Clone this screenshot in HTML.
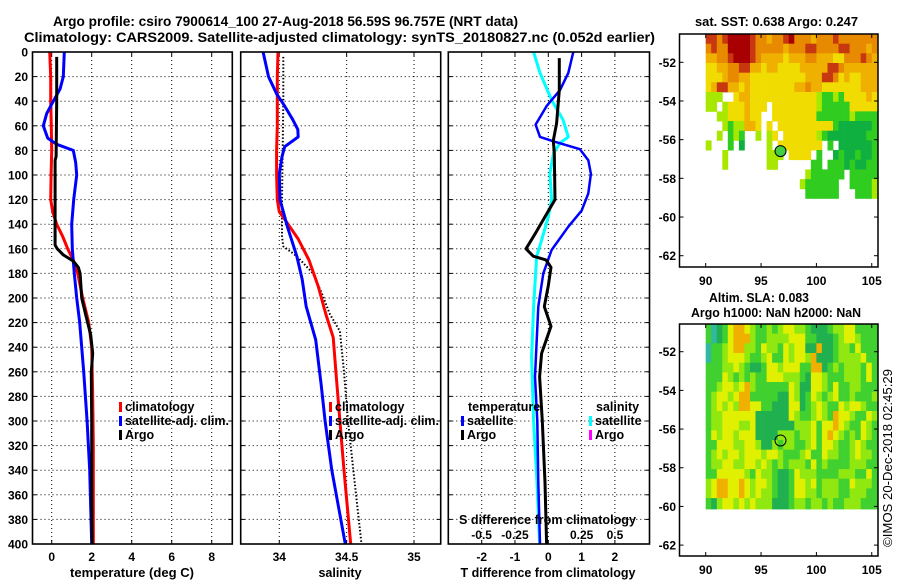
<!DOCTYPE html>
<html><head><meta charset="utf-8">
<style>
html,body{margin:0;padding:0;background:#fff;}
svg{display:block;font-family:"Liberation Sans",sans-serif;font-weight:bold;}
</style></head>
<body>
<svg id="chart" width="900" height="580" viewBox="0 0 900 580" xmlns="http://www.w3.org/2000/svg"></svg>
<script>
// ---------- data ----------
const depthTicks = [0,20,40,60,80,100,120,140,160,180,200,220,240,260,280,300,320,340,360,380,400];
const tempTicks = [0,2,4,6,8];
const salTicks = [34,34.5,35];
const salTickLabels = ["34","34.5","35"];
const tdiffTicks = [-2,-1,0,1,2];
const sdiffTicks = [-0.5,-0.25,0.25,0.5];
const sdiffTickLabels = ["-0.5","-0.25","0.25","0.5"];

// temperature panel
const tClimDepth = [0,20,40,60,80,100,120,130,140,150,160,170,180,200,220,240,280,320,360,400];
const tClimVal = [-0.1,-0.05,-0.05,-0.02,0.0,-0.03,-0.05,0.05,0.25,0.55,0.8,1.1,1.3,1.55,1.85,2.0,2.05,2.08,2.08,2.08];
const tSatDepth = [0,20,30,40,50,60,70,75,80,90,100,120,140,160,180,200,220,260,300,340,400];
const tSatVal = [0.63,0.58,0.42,0.08,-0.25,-0.42,-0.2,0.25,1.08,1.2,1.25,1.1,1.0,1.03,1.13,1.25,1.4,1.6,1.77,1.9,2.0];
const tArgoDepth = [4,40,85,88,157,160,165,170,175,180,200,215,230,245,260,300,350,400];
const tArgoVal = [0.25,0.25,0.22,0.17,0.17,0.28,0.58,1.08,1.33,1.42,1.5,1.72,1.95,2.05,1.98,2.0,2.0,2.02];

// salinity panel
const sClimDepth = [0,20,40,60,80,100,120,130,136,152,169,191,213,232,260,300,340,400];
const sClimVal = [33.99,33.985,33.985,33.985,33.98,33.98,33.985,34.0,34.04,34.14,34.22,34.29,34.345,34.40,34.42,34.45,34.48,34.53];
const sSatDepth = [0,20,34,44,55,63,69,77,85,99,120,142,166,185,207,234,270,300,340,400];
const sSatVal = [33.88,33.92,33.98,34.04,34.10,34.137,34.14,34.04,34.02,34.0,34.005,34.06,34.13,34.17,34.20,34.27,34.31,34.34,34.39,34.49];
const sArgoDepth = [4,40,80,120,150,158,166,180,196,213,227,260,300,350,400];
const sArgoVal = [34.03,34.03,34.025,34.02,34.02,34.03,34.13,34.25,34.315,34.375,34.45,34.48,34.51,34.56,34.61];

// difference panel
const dTSatDepth = [0,17,31,44,59,69,73,79,88,99,115,129,142,161,180,207,264,300,350,400];
const dTSatVal = [0.75,0.6,0.35,-0.05,-0.38,-0.25,0.2,0.95,1.2,1.28,1.2,1.0,0.6,0.1,-0.15,-0.3,-0.4,-0.33,-0.3,-0.25];
const dTArgoDepth = [5,31,58,72,82,120,134,148,160,166,169,175,190,207,223,245,264,300,350,400];
const dTArgoVal = [0.33,0.33,0.25,0.15,0.18,0.2,-0.1,-0.4,-0.67,-0.45,-0.07,0.08,0.0,-0.12,0.08,-0.2,-0.26,-0.18,-0.1,-0.05];
const dSSatDepth = [0,17,39,55,69,74,82,99,120,134,153,166,207,248,300,350,400];
const dSSatVal = [-0.11,-0.062,0.025,0.11,0.15,0.088,0.04,0.012,0.025,0,-0.05,-0.087,-0.11,-0.125,-0.11,-0.085,-0.065];

// maps
const lonTicks = [90,95,100,105];
const latTicks = [-52,-54,-56,-58,-60,-62];
const argoLon = 96.757, argoLat = -56.59;
const sstRows = [
"rrorRRRRrooOoorRoooOooorooooooo",
"orooRRRRroooooOooorroooorroooOo",
"OOoorRRRroOOOOyOOOooOOOyyoooroO",
"yyOOoorrOOyOOyyyyOOOOOrroOOOOOO",
"yyyOooOOyyyyyyyyyyOOOrroyOyyOOO",
"yOrrOOyOyyyyyyyyOOoOOyyyyyyyOOO",
"lll..yOOyyyyyyyyyyyylgglgyyyyOy",
"ll.lyyyOyyy.yyyyyyyylgggggyyyyy",
"..llyyyOyy..yyyyyyyygggggglgggg",
"...lgllOOy.y.yyyyyyyyyygGGGGGGg",
"..l.glg..l.ly.yyyyyylgGGGGGGGgg",
"l...g.G....l.yyyyyyyy.g.GGGGGGg",
"...l.......lll.yyyy.g..GgGGgGGg",
"...l.......ll......gg.gggGgGGgg",
"..................lgggggg.ggggg",
".................lgggggg..ggggl",
"..................gggggg...gggl"];
const slaRows = [
"gcGgyooylgglglyyllgGGGgllyygggg",
"gcGgyooolggllllyyyggGGGglyylggg",
"cgglyoollgyllgylyyGGoGGgllgyggg",
"cgglyyylgglyggylyyloGGGgllllygg",
"gggllylgGGgyylyyyggooGglglllgyg",
"gggylglglggyyylllgGyylggglllgyg",
"gglyylyolggggggylGGyylgyggllggg",
"glyylyoogggggGGylGgylglygglgggl",
"glylylooyyggGGGyyGglylggylyylgg",
"gllyyyyyyGGGGGGylgglylgoyylggyl",
"gllyyyllyGGGGGGGlllygyyoylggylg",
"gylyylyyyGGGGlllgllygyoylglgylg",
"ggyyyllyylGGlgllgglygyylgglylgg",
"glylyylyyylyylggglyggyllgglyllg",
"gllyyllyylylglglllgyglgggglllgg",
"ggyyyyylgyllgGGgylllgggglllggyg",
"lyooyyoylyylgGGgyylyglllggylllg",
"lyooyyoylyllgGGgyyllglllgglllgg",
"gGlyylylylllGGGgllgllglgglllggg",
"gGlyylylylllGGGgllgllglgglllggg"];

// ---------- helpers ----------
const NS = "http://www.w3.org/2000/svg";
const svg = document.getElementById("chart");
function mk(tag, attrs, parent){
  const e = document.createElementNS(NS, tag);
  for (const k in attrs) e.setAttribute(k, attrs[k]);
  (parent||svg).appendChild(e);
  return e;
}
function txt(s, x, y, size, anchor, parent, len){
  const a = {x:x, y:y, "font-size":size, "text-anchor":anchor||"start", fill:"#000"};
  if (len){ a.textLength = len; a.lengthAdjust = "spacingAndGlyphs"; }
  const e = mk("text", a, parent);
  e.textContent = s;
  return e;
}
const yD = d => 52 + d*1.23;
const PY0 = 52, PY1 = 544;
const xT = v => 51.7 + 20*v;
const xS = v => 279.3 + 134.7*(v-34);
const xDT = v => 548.3 + 33.3*v;
const xDS = v => 548.3 + 133.3*v;

function panelFrame(name, x0, x1, xticks, xfn){
  const g = mk("g", {});
  
  
  for (let i=1;i<depthTicks.length-1;i++){
    const y = yD(depthTicks[i]);
    const l = mk("line",{x1:x0,x2:x1,y1:y,y2:y,stroke:"#000","stroke-width":1,"stroke-dasharray":"1,3"},g);
    
    
    mk("line",{x1:x0,x2:x0+4,y1:y,y2:y,stroke:"#000","stroke-width":1},g);
    mk("line",{x1:x1-4,x2:x1,y1:y,y2:y,stroke:"#000","stroke-width":1},g);
  }
  xticks.forEach(v=>{
    const x = xfn(v);
    const l = mk("line",{x1:x,x2:x,y1:PY0,y2:PY1,stroke:"#000","stroke-width":1,"stroke-dasharray":"1,3"},g);
    
    
    mk("line",{x1:x,x2:x,y1:PY0,y2:PY0+4,stroke:"#000","stroke-width":1},g);
    mk("line",{x1:x,x2:x,y1:PY1-4,y2:PY1,stroke:"#000","stroke-width":1},g);
  });
  return g;
}
function border(name, x0, x1){
  const r = mk("rect",{x:x0,y:PY0,width:x1-x0,height:PY1-PY0,fill:"none",stroke:"#000","stroke-width":1.6});
  
  
}
function curve(name, depths, vals, xfn, color, w, dash){
  const pts = depths.map((d,i)=> xfn(vals[i]).toFixed(1)+","+yD(d).toFixed(1)).join(" ");
  const a = {points:pts, fill:"none", stroke:color, "stroke-width":w, "stroke-linejoin":"round"};
  if (dash) a["stroke-dasharray"] = dash;
  const p = mk("polyline", a);
  
  
  return p;
}
function legendEntry(name, color, x, y, label, len){
  const g = mk("g",{});
  
  
  if (color) mk("rect",{x:x,y:y-9,width:3,height:10,fill:color},g);
  txt(label, x+6, y, 12.5, "start", g, len);
}

// ---------- titles ----------
let t = txt("Argo profile: csiro 7900614_100 27-Aug-2018 56.59S 96.757E (NRT data)", 53, 26, 14, "start", svg, 465);


t = txt("Climatology: CARS2009. Satellite-adjusted climatology: synTS_20180827.nc (0.052d earlier)", 24, 42, 14, "start", svg, 631);



// ---------- panel 1: temperature ----------
panelFrame("temperature-grid", 32.5, 232.3, tempTicks, xT);
curve("temperature-climatology-line", tClimDepth, tClimVal, xT, "#ff0000", 3);
curve("temperature-satellite-line", tSatDepth, tSatVal, xT, "#0000ff", 3);
curve("temperature-argo-line", tArgoDepth, tArgoVal, xT, "#000000", 3);
border("temperature-panel-frame", 32.5, 232.3);
depthTicks.forEach(d=>{
  const e = txt(String(d), 28, yD(d)+4.5, 12, "end");
  
  
});
tempTicks.forEach(v=>{
  const e = txt(String(v), xT(v), 561, 12, "middle");
  
  
});
t = txt("temperature (deg C)", 132, 577, 12.5, "middle", svg, 124);


legendEntry("legend-climatology", "#ff0000", 119, 411, "climatology");
legendEntry("legend-satellite-adj-clim", "#0000ff", 119, 425, "satellite-adj. clim.", 104);
legendEntry("legend-argo", "#000000", 119, 439, "Argo");

// ---------- panel 2: salinity ----------
panelFrame("salinity-grid", 240.7, 440.7, salTicks, xS);
curve("salinity-argo-line", sArgoDepth, sArgoVal, xS, "#000000", 2, "1.5,2");
curve("salinity-climatology-line", sClimDepth, sClimVal, xS, "#ff0000", 3);
curve("salinity-satellite-line", sSatDepth, sSatVal, xS, "#0000ff", 3);
border("salinity-panel-frame", 240.7, 440.7);
salTicks.forEach((v,i)=>{
  const e = txt(salTickLabels[i], xS(v), 561, 12, "middle");
  
  
});
t = txt("salinity", 340, 577, 12.5, "middle");


legendEntry("legend-climatology-2", "#ff0000", 329, 411, "climatology");
legendEntry("legend-satellite-adj-clim-2", "#0000ff", 329, 425, "satellite-adj. clim.", 104);
legendEntry("legend-argo-2", "#000000", 329, 439, "Argo");

// ---------- panel 3: differences ----------
panelFrame("difference-grid", 448.3, 649.5, tdiffTicks, xDT);
curve("salinity-diff-satellite-line", dSSatDepth, dSSatVal, xDS, "#00ffff", 3);
curve("temperature-diff-satellite-line", dTSatDepth, dTSatVal, xDT, "#0000ff", 2.5);
curve("temperature-diff-argo-line", dTArgoDepth, dTArgoVal, xDT, "#000000", 3);
border("difference-panel-frame", 448.3, 649.5);
tdiffTicks.forEach(v=>{
  const e = txt(String(v), xDT(v), 561, 12, "middle");
  
  
});
sdiffTicks.forEach((v,i)=>{
  const e = txt(sdiffTickLabels[i], xDS(v), 539, 12, "middle");
  
  
});
t = txt("S difference from climatology", 459, 524, 12.5, "start", svg, 177);


t = txt("T difference from climatology", 548, 577, 12.5, "middle", svg, 175);


t = txt("temperature", 468, 411, 12.5, "start");


legendEntry("legend-temp-satellite", "#0000ff", 461, 425, "satellite");
legendEntry("legend-temp-argo", "#000000", 461, 439, "Argo");
t = txt("salinity", 596, 411, 12.5, "start");


legendEntry("legend-sal-satellite", "#00ffff", 589, 425, "satellite");
legendEntry("legend-sal-argo", "#ff00ff", 589, 439, "Argo");

// ---------- maps ----------
const MX0 = 679.5, MX1 = 878;
const lonX = lon => 705.7 + (lon-90)*11.07;
const sstColors = {R:"#a80000",r:"#c83810",o:"#e88a00",O:"#f0b000",y:"#f0dc00",Y:"#d8f000",l:"#a8e800",g:"#30cc20",G:"#10b040"};
const slaColors = {g:"#40d030",G:"#20b050",l:"#90e810",y:"#e0f000",o:"#f0b000",c:"#30b8a0",b:"#40c8e0"};

function drawMap(name, top, bottom, lat52, rows, colors, dataBottom, circleFill){
  const latY = lat => lat52 + (-52-lat)*19.34;
  const g = mk("g",{});
  
  
  const cw = 11.07*0.5;
  const rh = 19.34*0.5;
  rows.forEach((row,ri)=>{
    for (let ci=0; ci<row.length; ci++){
      const c = colors[row[ci]];
      if (!c) continue;
      const x = lonX(90+ci*0.5);
      const y = top + ri*rh;
      if (y >= dataBottom) continue;
      const h = Math.min(rh, dataBottom-y);
      const w = Math.min(cw, MX1-x);
      const r = mk("rect",{x:x.toFixed(1),y:y.toFixed(1),width:(w+0.4).toFixed(1),height:(h+0.4).toFixed(1),fill:c},g);
      
      
    }
  });
  const fr = mk("rect",{x:MX0,y:top,width:MX1-MX0,height:bottom-top,fill:"none",stroke:"#000","stroke-width":1.5},g);
  
  
  latTicks.forEach(lat=>{
    const y = latY(lat);
    mk("line",{x1:MX0,x2:MX0+4,y1:y,y2:y,stroke:"#000"},g);
    mk("line",{x1:MX1-4,x2:MX1,y1:y,y2:y,stroke:"#000"},g);
    const e = txt(String(lat), 676, y+4.5, 12, "end", g);
    
    
  });
  lonTicks.forEach(lon=>{
    const x = lonX(lon);
    mk("line",{x1:x,x2:x,y1:bottom-4,y2:bottom,stroke:"#000"},g);
    mk("line",{x1:x,x2:x,y1:top,y2:top+4,stroke:"#000"},g);
    const e = txt(String(lon), x, bottom+18, 12, "middle", g);
    
    
  });
  const c = mk("circle",{cx:lonX(argoLon),cy:latY(argoLat),r:5.5,fill:circleFill,stroke:"#000","stroke-width":1},g);
  
  
}
drawMap("sst-map", 34, 267, 62.3, sstRows, sstColors, 267, "#40d040");
drawMap("sla-map", 324, 556, 351.7, slaRows, slaColors, 509, "none");

t = txt("sat. SST: 0.638 Argo: 0.247", 695, 26, 12.5, "start", svg, 163);


t = txt("Altim. SLA: 0.083", 709, 302, 12.5, "start", svg, 100);


t = txt("Argo h1000: NaN h2000: NaN", 691, 317, 12.5, "start", svg, 170);


t = mk("text",{x:0,y:0,"font-size":12.5,"font-weight":"normal",transform:"translate(892,547) rotate(-90)",textLength:178,lengthAdjust:"spacingAndGlyphs"});
t.textContent = "\u00A9IMOS 20-Dec-2018 02:45:29";


</script>
</body></html>
